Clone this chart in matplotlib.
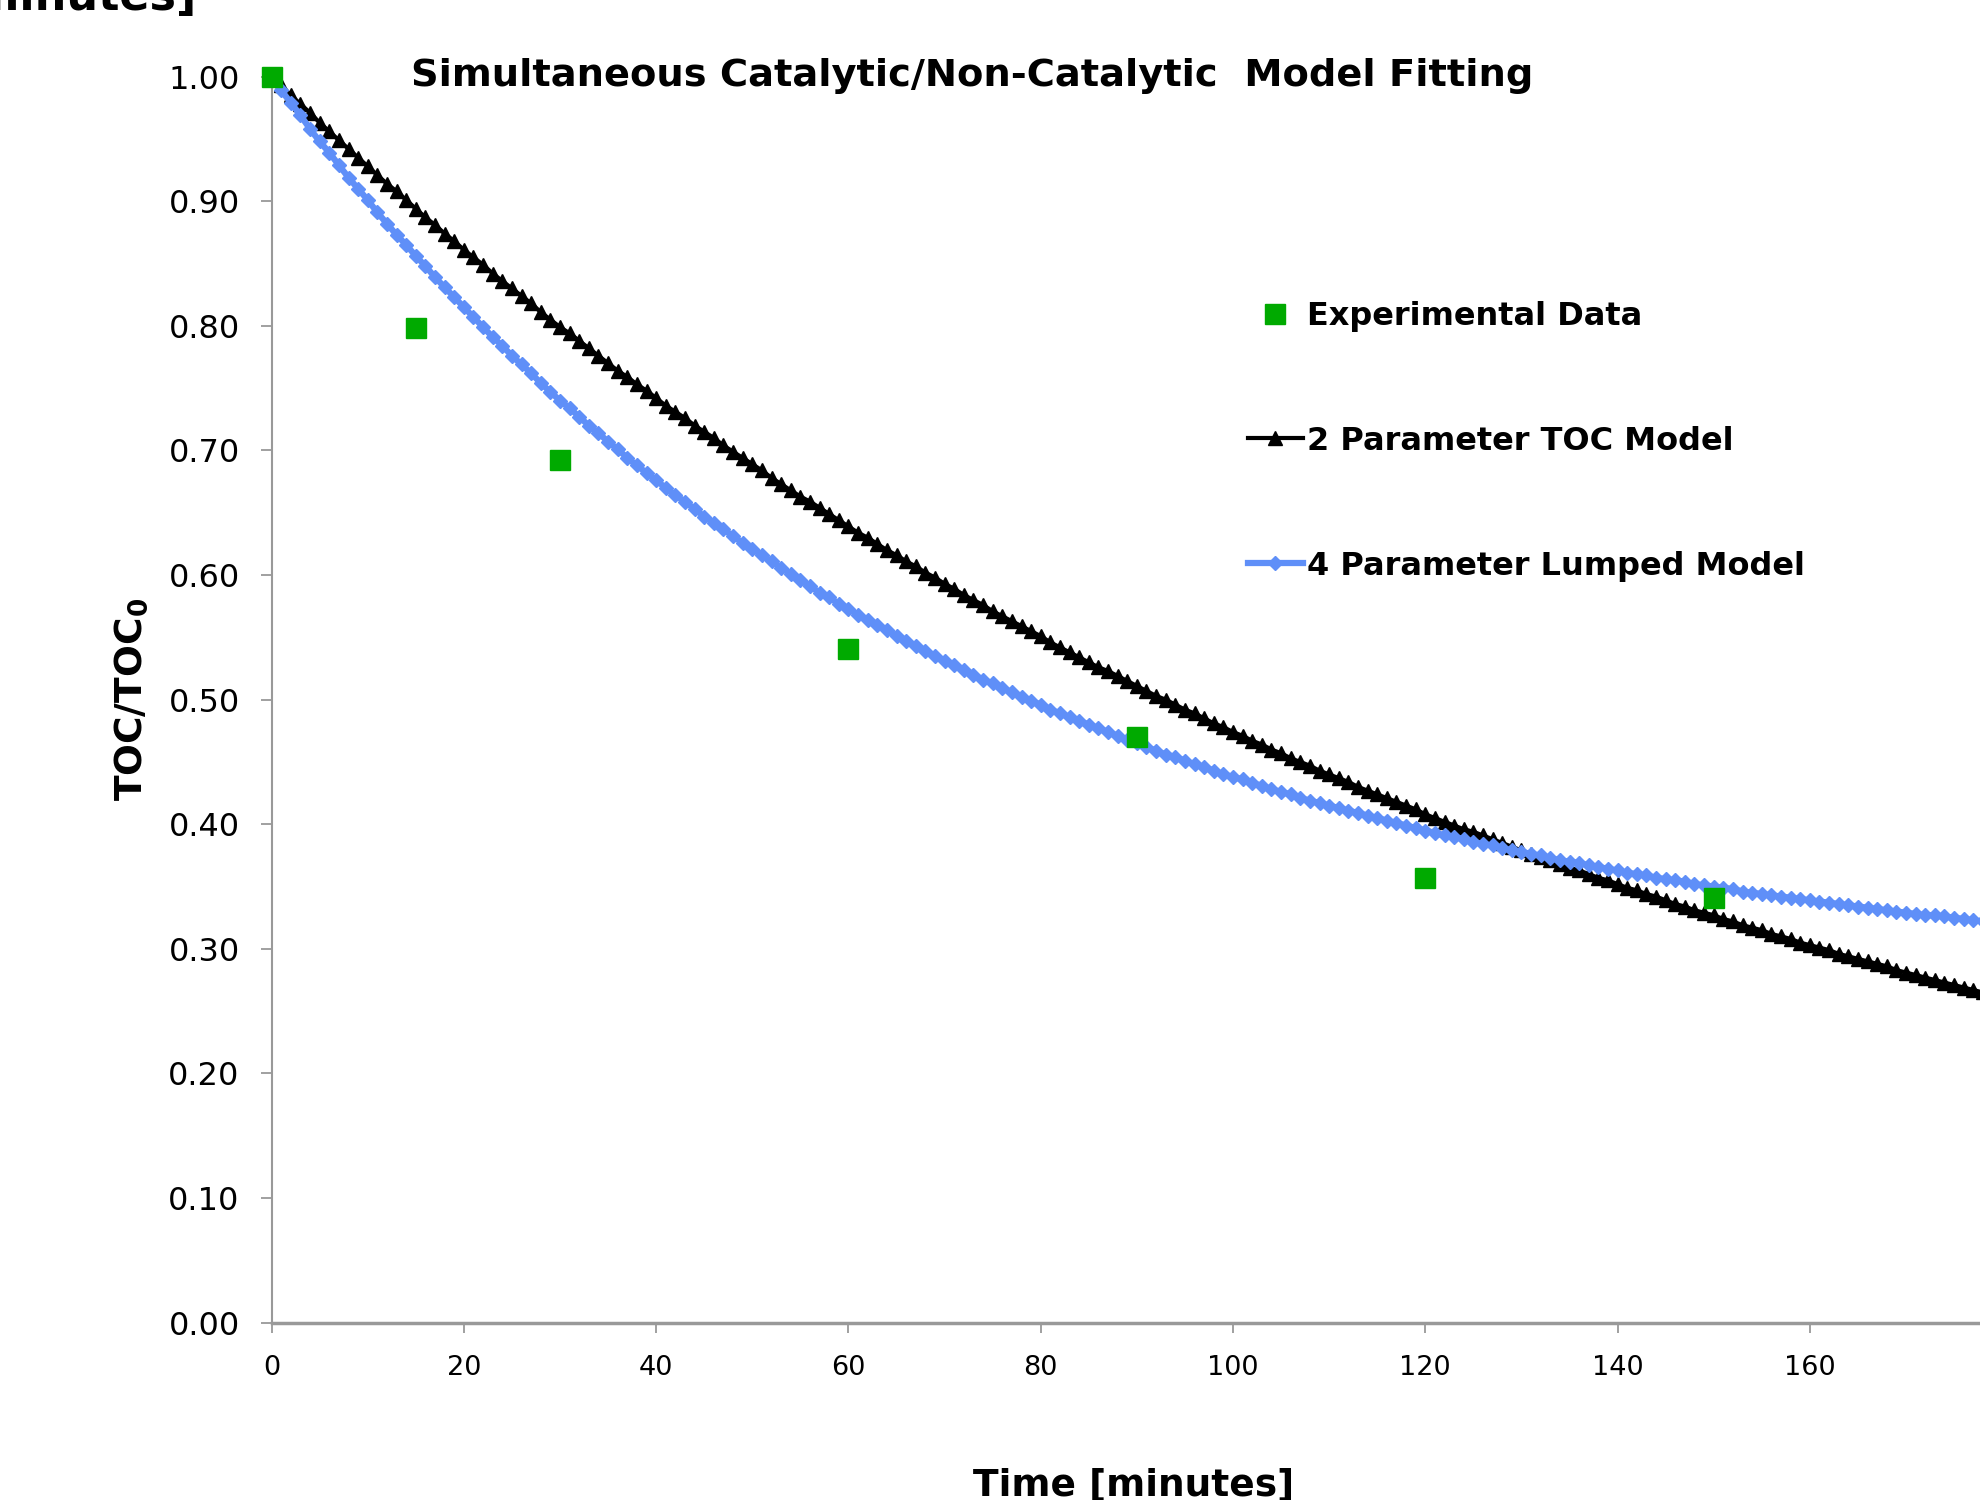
import matplotlib as mpl

mpl.use("Agg")
import matplotlib.pyplot as plt
import numpy as np
from matplotlib.ticker import FormatStrFormatter

# experimental TOC/TOC0 points
t_exp = [0, 15, 30, 60, 90, 120, 150]
toc_exp = [1.000, 0.798, 0.692, 0.541, 0.470, 0.357, 0.341]

# model curves, one value per minute from t = 0 to 180
t_model = list(range(0, 181))
toc_2par = [
    1.000, 0.993, 0.985, 0.978, 0.971, 0.963, 0.956, 0.949, 0.942, 0.935,
    0.928, 0.921, 0.914, 0.908, 0.901, 0.894, 0.887, 0.881, 0.874, 0.868,
    0.861, 0.855, 0.849, 0.842, 0.836, 0.830, 0.824, 0.818, 0.811, 0.805,
    0.799, 0.794, 0.788, 0.782, 0.776, 0.770, 0.764, 0.759, 0.753, 0.748,
    0.742, 0.736, 0.731, 0.726, 0.720, 0.715, 0.710, 0.704, 0.699, 0.694,
    0.689, 0.684, 0.678, 0.673, 0.668, 0.663, 0.659, 0.654, 0.649, 0.644,
    0.639, 0.634, 0.630, 0.625, 0.620, 0.616, 0.611, 0.607, 0.602, 0.598,
    0.593, 0.589, 0.584, 0.580, 0.576, 0.571, 0.567, 0.563, 0.559, 0.555,
    0.551, 0.546, 0.542, 0.538, 0.534, 0.530, 0.526, 0.523, 0.519, 0.515,
    0.511, 0.507, 0.503, 0.500, 0.496, 0.492, 0.489, 0.485, 0.481, 0.478,
    0.474, 0.471, 0.467, 0.464, 0.460, 0.457, 0.453, 0.450, 0.447, 0.443,
    0.440, 0.437, 0.434, 0.430, 0.427, 0.424, 0.421, 0.418, 0.415, 0.412,
    0.408, 0.405, 0.402, 0.399, 0.396, 0.394, 0.391, 0.388, 0.385, 0.382,
    0.379, 0.376, 0.374, 0.371, 0.368, 0.365, 0.363, 0.360, 0.357, 0.355,
    0.352, 0.349, 0.347, 0.344, 0.342, 0.339, 0.336, 0.334, 0.331, 0.329,
    0.327, 0.324, 0.322, 0.319, 0.317, 0.315, 0.312, 0.310, 0.308, 0.305,
    0.303, 0.301, 0.299, 0.296, 0.294, 0.292, 0.290, 0.288, 0.286, 0.283,
    0.281, 0.279, 0.277, 0.275, 0.273, 0.271, 0.269, 0.267, 0.265, 0.263,
    0.261,
]
toc_4par = [
    1.000, 0.989, 0.979, 0.969, 0.958, 0.948, 0.939, 0.929, 0.919, 0.910,
    0.901, 0.891, 0.882, 0.873, 0.865, 0.856, 0.848, 0.839, 0.831, 0.823,
    0.815, 0.807, 0.799, 0.791, 0.784, 0.776, 0.769, 0.762, 0.754, 0.747,
    0.740, 0.734, 0.727, 0.720, 0.714, 0.707, 0.701, 0.694, 0.688, 0.682,
    0.676, 0.670, 0.664, 0.659, 0.653, 0.647, 0.642, 0.637, 0.631, 0.626,
    0.621, 0.616, 0.611, 0.606, 0.601, 0.596, 0.591, 0.586, 0.582, 0.577,
    0.573, 0.568, 0.564, 0.560, 0.556, 0.551, 0.547, 0.543, 0.539, 0.535,
    0.531, 0.528, 0.524, 0.520, 0.516, 0.513, 0.509, 0.506, 0.502, 0.499,
    0.496, 0.492, 0.489, 0.486, 0.483, 0.480, 0.477, 0.474, 0.471, 0.468,
    0.465, 0.462, 0.459, 0.456, 0.454, 0.451, 0.448, 0.446, 0.443, 0.440,
    0.438, 0.436, 0.433, 0.431, 0.428, 0.426, 0.424, 0.421, 0.419, 0.417,
    0.415, 0.413, 0.411, 0.409, 0.407, 0.405, 0.403, 0.401, 0.399, 0.397,
    0.395, 0.393, 0.391, 0.390, 0.388, 0.386, 0.384, 0.383, 0.381, 0.379,
    0.378, 0.376, 0.375, 0.373, 0.371, 0.370, 0.369, 0.367, 0.366, 0.364,
    0.363, 0.361, 0.360, 0.359, 0.357, 0.356, 0.355, 0.354, 0.352, 0.351,
    0.350, 0.349, 0.348, 0.346, 0.345, 0.344, 0.343, 0.342, 0.341, 0.340,
    0.339, 0.338, 0.337, 0.336, 0.335, 0.334, 0.333, 0.332, 0.331, 0.330,
    0.329, 0.328, 0.327, 0.327, 0.326, 0.325, 0.324, 0.323, 0.322, 0.322,
    0.321,
]

label_exp = "Experimental Data"
label_2par = "2 Parameter TOC Model"
label_4par = "4 Parameter Lumped Model"
y_ticks = np.arange(0.0, 1.01, 0.1)
x_ticks = list(range(0, 161, 20))

AXIS_GREY = "#999999"
BLUE = "#5F8FF8"
GREEN = "#00AA00"

fig = plt.figure(figsize=(19.81, 15.0), dpi=100)
ax = fig.add_axes([0.1371, 0.1182, 0.8629, 0.8307])

h2, = ax.plot(t_model, toc_2par, color="black", lw=3.0, marker="^", ms=10,
              mec="black", mfc="black", clip_on=False, zorder=3)
h4, = ax.plot(t_model, toc_4par, color=BLUE, lw=4.5, marker="D", ms=7.5,
              mec=BLUE, mfc=BLUE, clip_on=False, zorder=4)
he, = ax.plot(t_exp, toc_exp, ls="none", marker="s", ms=14, color=GREEN,
              mec=GREEN, clip_on=False, zorder=5)

ax.set_xlim(0, 177.8)
ax.set_ylim(0, 1.0)
ax.set_xticks(x_ticks)
ax.set_yticks(y_ticks)
ax.yaxis.set_major_formatter(FormatStrFormatter("%.2f"))

ax.spines[["top", "right"]].set_visible(False)
ax.spines["left"].set_color(AXIS_GREY)
ax.spines["left"].set_linewidth(1.5)
ax.spines["bottom"].set_color(AXIS_GREY)
ax.spines["bottom"].set_linewidth(2.5)
ax.tick_params(axis="y", direction="out", length=8, width=1.3, color=AXIS_GREY,
               labelsize=23, pad=15)
ax.tick_params(axis="x", direction="out", length=7, width=1.3, color=AXIS_GREY,
               labelsize=19.5, pad=16)

ax.legend([he, h2, h4], [label_exp, label_2par, label_4par],
          loc="upper left", bbox_to_anchor=(0.562, 0.833), frameon=False,
          borderpad=0, numpoints=1, handlelength=1.7, handletextpad=0.15,
          labelspacing=2.94, prop={"weight": "bold", "size": 23})

fig.text(0.491, 0.9427, "Simultaneous Catalytic/Non-Catalytic  Model Fitting",
         ha="center", va="baseline", fontsize=27.6, fontweight="bold")
fig.text(0.066, 0.534, r"TOC/TOC$_\mathbf{0}$", rotation=90, ha="center",
         va="center", fontsize=27, fontweight="bold")
fig.text(0.5723, 0.003, "Time [minutes]", ha="center", va="baseline",
         fontsize=27, fontweight="bold")
# clipped axis title of the chart above this one
fig.text(0.099, 0.9933, "Time [minutes]", ha="right", va="baseline",
         fontsize=32, fontweight="bold")

fig.savefig("out.png", dpi=100)
